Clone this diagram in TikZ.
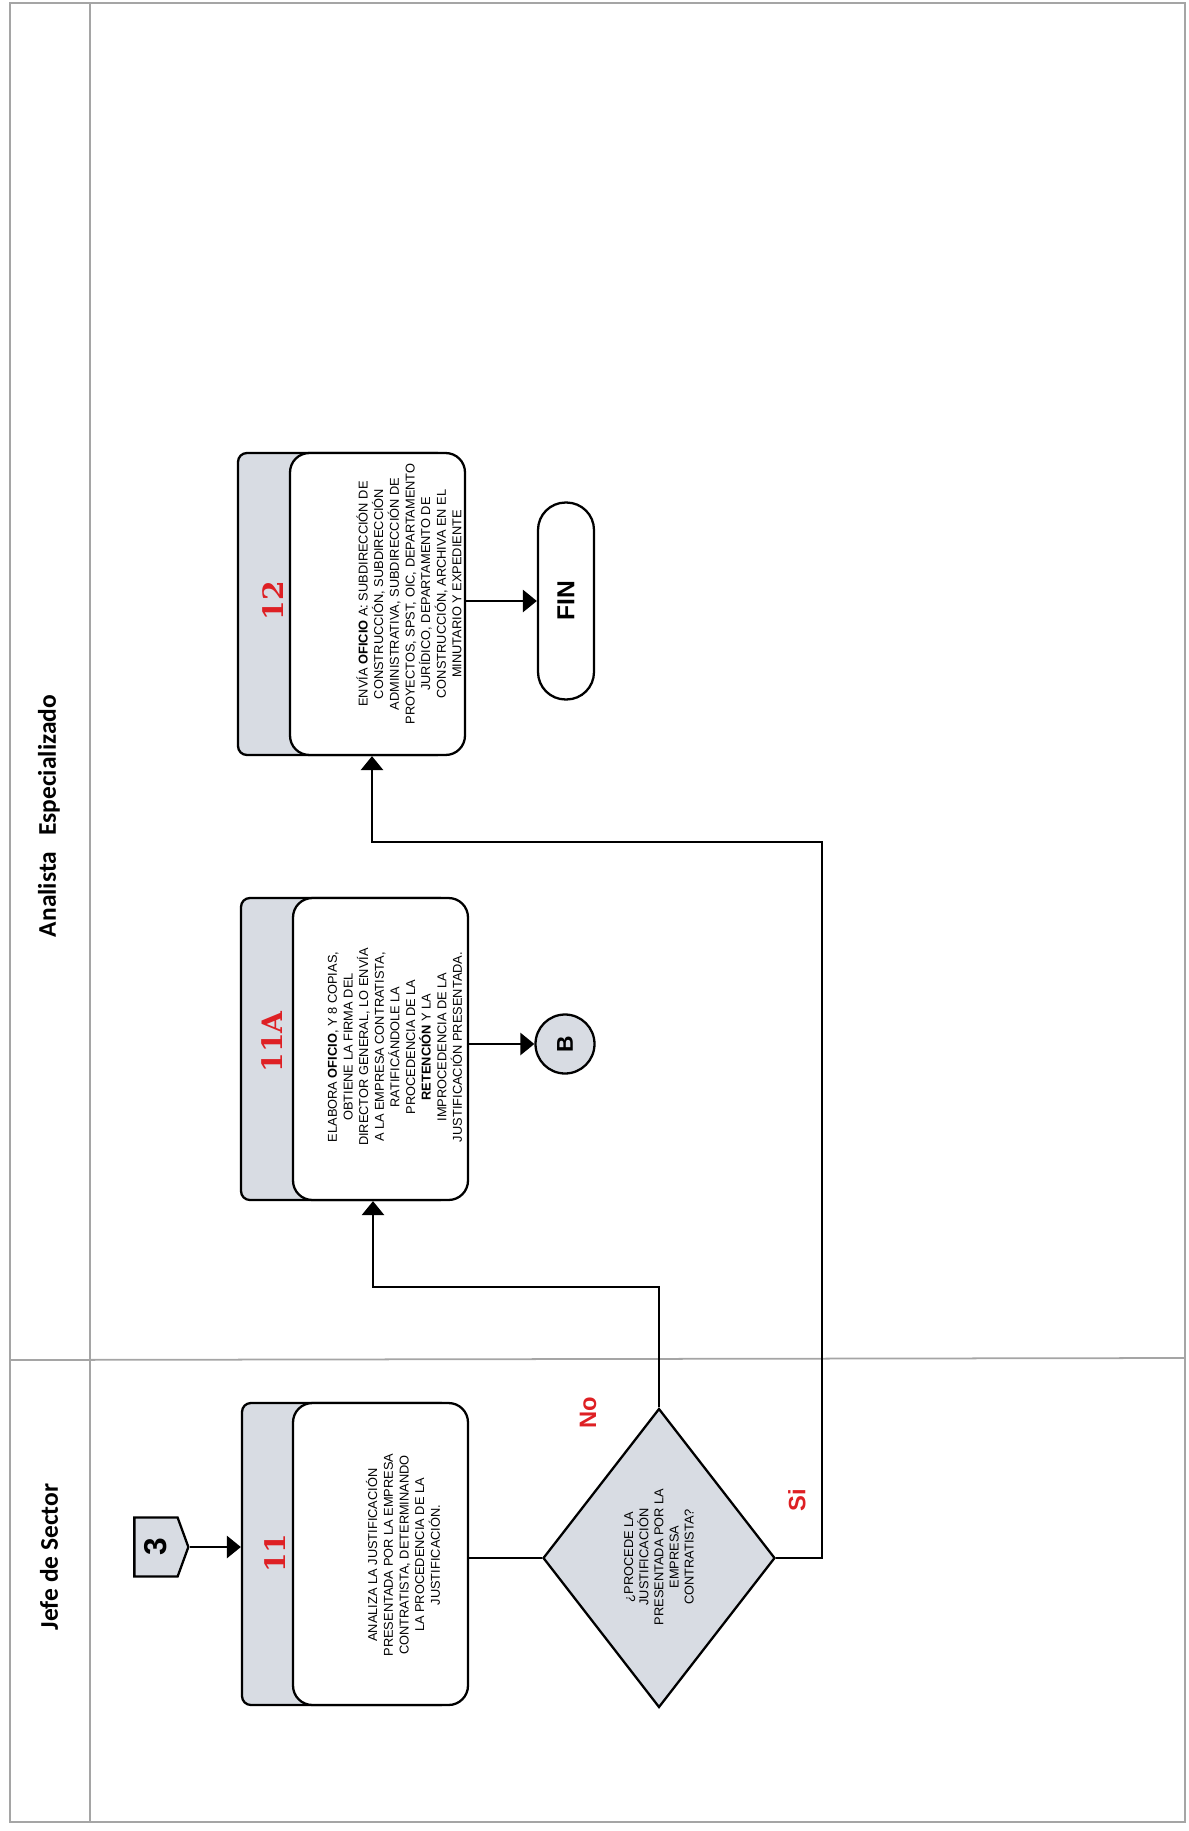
\documentclass[tikz,border=0pt]{standalone}
\usepackage{fontspec}
\setmainfont{Liberation Sans}
\newfontfamily\numfont{DejaVu Serif}
\newfontfamily\lanefont{Carlito}
\usetikzlibrary{shapes.geometric,shapes.symbols,arrows.meta}
\definecolor{boxgray}{RGB}{216,220,227}
\definecolor{numred}{RGB}{222,32,36}
\definecolor{lanegray}{RGB}{165,165,165}
\begin{document}
\begin{tikzpicture}[x=.02cm,y=-.02cm,
    lane/.style={draw=lanegray,line width=1pt},
    lanetitle/.style={rotate=90,font=\lanefont\fontsize{14.5}{16}\selectfont\bfseries},
    stepouter/.style={draw,line width=1.3pt,fill=boxgray,rounded corners=5pt,minimum width=4.16cm,minimum height=6.04cm,inner sep=0pt},
    stepinner/.style={draw,line width=1.3pt,fill=white,rounded corners=11pt,minimum width=3.5cm,minimum height=6.04cm,inner sep=0pt},
    steptext/.style={rotate=90,align=center,inner sep=0pt,font=\fontsize{7.3}{8.9}\selectfont},
    stepnum/.style={rotate=90,text=numred,font=\numfont\fontsize{16}{16}\selectfont\bfseries},
    answer/.style={rotate=90,text=numred,font=\fontsize{13.5}{13.5}\selectfont\bfseries},
    flow/.style={line width=1.6pt,-{Triangle[length=2.8mm,width=4.4mm]}},
    plain/.style={line width=1.6pt}]
\useasboundingbox (0,0) rectangle (1189,1831);
\draw[lane] (10,3) rectangle (1185,1822);
\draw[lane] (90,3) -- (90,1822);
\draw[lane] (10,1360) -- (1185,1358);
\node[lanetitle] (lane1) at (49,1557) {Jefe de Sector};
\node[lanetitle] (lane2) at (49,816) {Analista\hspace{.4em} Especializado};
\node[draw,line width=1.3pt,fill=boxgray,signal,signal to=east,signal pointer angle=140,minimum width=1.08cm,minimum height=1.18cm,inner sep=0pt] (c3) at (156,1547) {\rotatebox{90}{\fontsize{18}{18}\selectfont\bfseries 3}};
\node[stepouter] (o11) at (346,1554) {};
\node[stepinner] (i11) at (380.5,1554) {};
\node[stepnum] (n11) at (275,1553) {11};
\node[steptext] (t11) at (403,1555) {ANALIZA LA JUSTIFICACIÓN\\PRESENTADA POR LA EMPRESA\\CONTRATISTA, DETERMINANDO\\LA PROCEDENCIA DE LA\\JUSTIFICACIÓN.};
\node[stepouter] (o11A) at (345,1049) {};
\node[stepinner] (i11A) at (380.5,1049) {};
\node[stepnum] (n11A) at (272,1042) {11A};
\node[steptext] (t11A) at (395,1047) {ELABORA \textbf{OFICIO}, Y 8 COPIAS,\\OBTIENE LA FIRMA DEL\\DIRECTOR GENERAL, LO ENVÍA\\A LA EMPRESA CONTRATISTA,\\RATIFICÁNDOLE LA\\PROCEDENCIA DE LA\\\textbf{RETENCIÓN} Y LA\\IMPROCEDENCIA DE LA\\JUSTIFICACIÓN PRESENTADA.};
\node[stepouter] (o12) at (342,604) {};
\node[stepinner] (i12) at (377.5,604) {};
\node[stepnum] (n12) at (273,601) {12};
\node[steptext] (t12) at (409,594) {ENVÍA \textbf{OFICIO} A: SUBDIRECCIÓN DE\\CONSTRUCCIÓN, SUBDIRECCIÓN\\ADMINISTRATIVA, SUBDIRECCIÓN DE\\PROYECTOS, SPST, OIC, DEPARTAMENTO\\JURÍDICO, DEPARTAMENTO DE\\CONSTRUCCIÓN, ARCHIVA EN EL\\MINUTARIO Y EXPEDIENTE};
\node[draw,line width=1.3pt,fill=boxgray,diamond,minimum width=4.64cm,minimum height=5.98cm,inner sep=0pt] (dq) at (659,1558) {};
\node[steptext,font=\fontsize{7.3}{8.6}\selectfont] (tq) at (659,1557) {¿PROCEDE LA\\JUSTIFICACIÓN\\PRESENTADA POR LA\\EMPRESA\\CONTRATISTA?};
\node[answer] (no) at (588,1413) {No};
\node[answer] (si) at (797,1500) {Si};
\node[draw,line width=1.3pt,fill=boxgray,circle,minimum size=1.18cm,inner sep=0pt] (pb) at (565,1044) {\rotatebox{90}{\fontsize{13}{13}\selectfont\bfseries B}};
\node[draw,line width=1.3pt,fill=white,rounded corners=.55cm,minimum width=1.12cm,minimum height=3.94cm,inner sep=0pt] (fin) at (566,601) {\rotatebox{90}{\fontsize{14}{14}\selectfont\bfseries FIN}};
\coordinate (noturn) at (373,1287);
\coordinate (siturn) at (822,842);
\coordinate (sileft) at (372,842);
\draw[flow] (c3.east) -- (c3.east -| o11.west);
\draw[plain] (dq.west -| i11.east) -- (dq.west);
\draw[flow] (dq.north) |- (noturn) -- (noturn |- o11A.south);
\draw[flow] (dq.east) -| (siturn) -- (sileft) -- (sileft |- o12.south);
\draw[flow] (pb.west -| i11A.east) -- (pb.west);
\draw[flow] (fin.west -| i12.east) -- (fin.west);
\end{tikzpicture}
\end{document}
